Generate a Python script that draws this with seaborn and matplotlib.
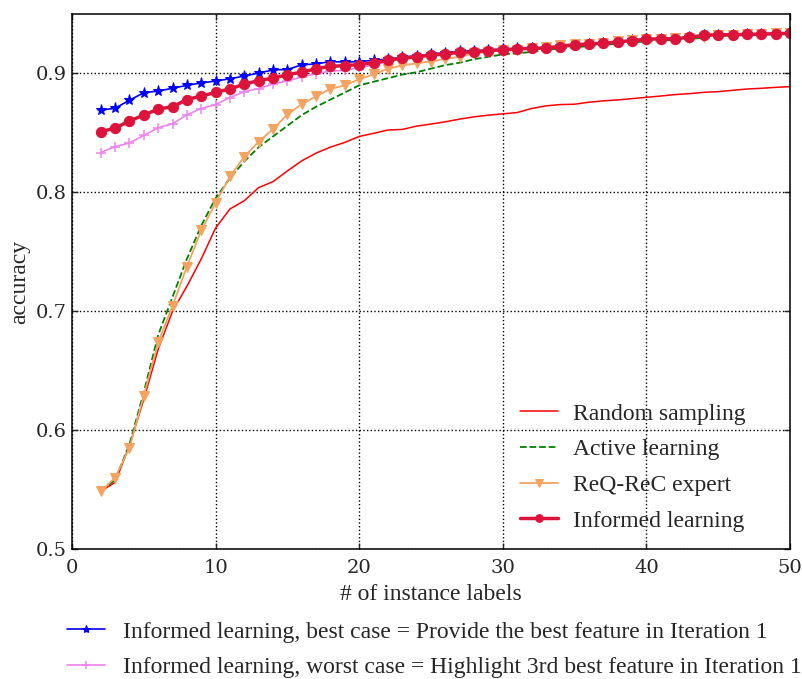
import numpy as np
import pandas as pd
import seaborn as sns
import matplotlib
matplotlib.use("Agg")
import matplotlib.pyplot as plt

x_labels = list(range(2, 51))

random_sampling = [0.5485, 0.556, 0.587, 0.626, 0.668, 0.700, 0.721, 0.744, 0.770, 0.786, 0.793,
                   0.804, 0.809, 0.818, 0.8265, 0.833, 0.838, 0.842, 0.847, 0.8496, 0.8524, 0.8529,
                   0.8557, 0.8574, 0.8593, 0.8616, 0.8635, 0.8649, 0.866, 0.8671, 0.8705, 0.8727,
                   0.8738, 0.8741, 0.8758, 0.8769, 0.8777, 0.8788, 0.8799, 0.881, 0.8822, 0.883,
                   0.8841, 0.8847, 0.8858, 0.8869, 0.8875, 0.8883, 0.8889]

active_learning = [0.549, 0.558, 0.588, 0.632, 0.680, 0.712, 0.744, 0.772, 0.795, 0.812, 0.826,
                   0.838, 0.847, 0.856, 0.865, 0.872, 0.878, 0.884, 0.890, 0.893, 0.896, 0.899,
                   0.901, 0.904, 0.907, 0.909, 0.912, 0.914, 0.916, 0.917, 0.918, 0.920, 0.921,
                   0.922, 0.923, 0.924, 0.925, 0.926, 0.927, 0.928, 0.928, 0.929, 0.930, 0.931,
                   0.932, 0.932, 0.933, 0.933, 0.934]

reqrec_expert = [0.5485, 0.560, 0.585, 0.629, 0.674, 0.7045, 0.7375, 0.768, 0.791, 0.8134, 0.830,
                 0.8426, 0.8532, 0.8655, 0.8741, 0.8808, 0.887, 0.890, 0.895, 0.8992, 0.9039,
                 0.9067, 0.9086, 0.910, 0.9123, 0.914, 0.917, 0.918, 0.920, 0.920, 0.921, 0.922,
                 0.924, 0.925, 0.925, 0.926, 0.927, 0.928, 0.929, 0.929, 0.930, 0.930, 0.931,
                 0.932, 0.932, 0.933, 0.933, 0.934, 0.934]

informed_learning = [0.851, 0.854, 0.860, 0.865, 0.870, 0.872, 0.878, 0.881, 0.884, 0.887, 0.891,
                     0.894, 0.896, 0.899, 0.901, 0.904, 0.906, 0.9065, 0.9075, 0.909, 0.911, 0.913,
                     0.914, 0.9156, 0.9164, 0.9178, 0.9181, 0.9192, 0.9198, 0.9206, 0.9212, 0.9212,
                     0.9226, 0.924, 0.9248, 0.9253, 0.9265, 0.9276, 0.9287, 0.9292, 0.9292, 0.9304,
                     0.932, 0.9326, 0.9326, 0.9328, 0.9331, 0.9334, 0.9337]

best_case = [0.869, 0.8708, 0.8774, 0.8838, 0.8852, 0.8875, 0.890, 0.892, 0.8936, 0.8955, 0.8978,
             0.9003, 0.903, 0.9033, 0.9072, 0.908, 0.910, 0.9095, 0.910, 0.911, 0.912, 0.9135,
             0.915, 0.9163, 0.9175, 0.9188, 0.919, 0.9198, 0.9204, 0.9212, 0.9216, 0.9216,
             0.9228, 0.9241, 0.9249, 0.9254, 0.9266, 0.9277, 0.9288, 0.9293, 0.9293, 0.9305,
             0.932, 0.9326, 0.9327, 0.9329, 0.9332, 0.9335, 0.9338]

worst_case = [0.8334, 0.8384, 0.8415, 0.8479, 0.8543, 0.8577, 0.8652, 0.8705, 0.8738, 0.8797, 0.8847,
              0.8872, 0.8911, 0.8936, 0.897, 0.8997, 0.902, 0.9025, 0.905, 0.907, 0.910, 0.912,
              0.913, 0.9148, 0.9158, 0.9172, 0.9176, 0.9188, 0.9194, 0.9202, 0.9208, 0.9209,
              0.9222, 0.9236, 0.9244, 0.925, 0.9262, 0.9273, 0.9284, 0.9289, 0.929, 0.9301,
              0.9317, 0.9323, 0.9324, 0.9326, 0.9329, 0.9332, 0.9335]

sns.set_style("ticks")
plt.rcParams['font.family'] = ['Liberation Serif', 'DejaVu Serif']
plt.rcParams['font.size'] = 17

fig = plt.figure(figsize=(8.03, 6.79), dpi=100)
ax = fig.add_axes([0.0897, 0.1915, 0.8941, 0.7879])

df = pd.DataFrame({"x": x_labels, "rs": random_sampling, "al": active_learning,
                   "rq": reqrec_expert, "il": informed_learning,
                   "bc": best_case, "wc": worst_case})

sns.lineplot(data=df, x="x", y="bc", ax=ax, color="#0000ff", lw=1.2, marker="*",
             markersize=8, markeredgecolor="#0000ff",
             label="Informed learning, best case = Provide the best feature in Iteration 1")
sns.lineplot(data=df, x="x", y="wc", ax=ax, color="#ee82ee", lw=1.2, marker="+",
             markersize=7, markeredgewidth=1.1, markeredgecolor="#ee82ee",
             label="Informed learning, worst case = Highlight 3rd best feature in Iteration 1")
sns.lineplot(data=df, x="x", y="rs", ax=ax, color="#ff0000", lw=1.1, label="Random sampling")
sns.lineplot(data=df, x="x", y="al", ax=ax, color="#008000", lw=1.3, linestyle="--",
             label="Active learning")
sns.lineplot(data=df, x="x", y="rq", ax=ax, color="#f4a460", lw=1.3, marker="v",
             markersize=7, markeredgecolor="#f4a460", label="ReQ-ReC expert")
sns.lineplot(data=df, x="x", y="il", ax=ax, color="#dc143c", lw=2.5, marker="o",
             markersize=7.4, markeredgecolor="#dc143c", label="Informed learning")

ax.set_xlim(0, 50)
ax.set_ylim(0.5, 0.95)
ax.set_xticks([0, 10, 20, 30, 40, 50])
ax.set_yticks([0.5, 0.6, 0.7, 0.8, 0.9])
ax.set_yticklabels(["0.5", "0.6", "0.7", "0.8", "0.9"])
ax.grid(True, color="black", linestyle=":", linewidth=1.0)
ax.tick_params(direction="in", top=True, right=True, length=4, width=1)
ax.tick_params(axis="x", pad=7)
ax.tick_params(axis="y", pad=4)
for lab in ax.get_xticklabels() + ax.get_yticklabels():
    lab.set_fontfamily("DejaVu Serif")
    lab.set_fontsize(14)
for s in ax.spines.values():
    s.set_color("black")
    s.set_linewidth(1.1)
ax.set_xlabel("# of instance labels", fontsize=17, labelpad=5)
ax.set_ylabel("accuracy", fontsize=17, labelpad=4)

handles, labels = ax.get_legend_handles_labels()
ax.legend(handles[2:], labels[2:], loc="upper left", frameon=False, fontsize=17,
          handlelength=1.6, handletextpad=0.65, markerscale=0.75, borderpad=0,
          borderaxespad=0, labelspacing=0.6,
          bbox_to_anchor=(520 / 803, 1 - 403 / 679), bbox_transform=fig.transFigure)
fig.legend(handles[:2], labels[:2], loc="upper left",
           bbox_to_anchor=(67 / 803, 1 - 621 / 679), borderpad=0, borderaxespad=0,
           frameon=False, fontsize=17, handlelength=1.6, markerscale=0.75,
           labelspacing=0.6, handletextpad=0.78)

fig.savefig("out.png", dpi=100)
